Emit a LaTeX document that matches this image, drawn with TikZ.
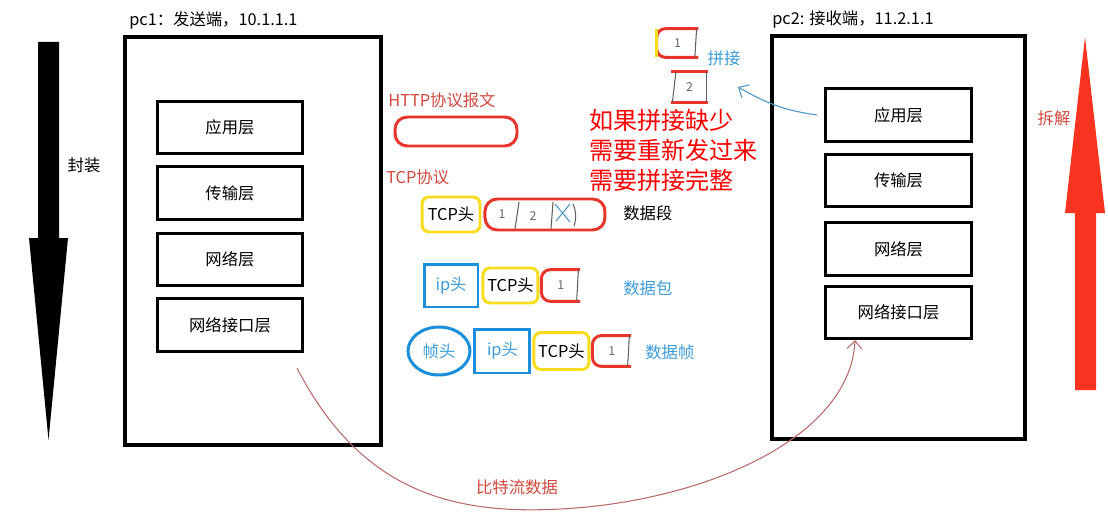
\documentclass[tikz,border=0pt]{standalone}
\usepackage{fontspec}
\setmainfont{Noto Sans CJK SC}
\usetikzlibrary{positioning,arrows.meta,shapes.geometric}

\begin{document}
\begin{tikzpicture}[
  x=0.02cm, y=-0.02cm,
  font=\fontsize{9.3pt}{11pt}\selectfont,
  pcbox/.style={draw=black, line width=2pt, inner sep=0pt},
  layer/.style={draw=black, line width=1.7pt, inner sep=0pt,
                minimum width=2.92cm, minimum height=1.05cm},
  redbox/.style={draw=hred, line width=1.7pt, rounded corners=7pt, inner sep=0pt},
  yelbox/.style={draw=hyellow, line width=1.7pt, rounded corners=4pt, inner sep=0pt,
                 minimum width=1.1cm, minimum height=0.7cm},
  bluebox/.style={draw=hblue, line width=1.7pt, inner sep=0pt, text=lblue},
  blueell/.style={ellipse, draw=hblue, line width=1.7pt, inner sep=0pt, text=lblue},
  piece/.style={inner sep=0pt, minimum width=0.76cm, minimum height=0.62cm,
                text=gray!80!black, font=\fontsize{7pt}{8pt}\selectfont},
  redline/.style={draw=hred, line width=1.7pt, rounded corners=5pt},
  pen/.style={draw=gray!75!black, line width=0.6pt},
  tag/.style={anchor=west, inner sep=0pt},
  redlbl/.style={text=lred},
  bluelbl/.style={text=lblue},
  bitflow/.style={->, draw=flowbrown, line width=0.6pt,
                  >={Straight Barb[length=1.6mm,width=3mm]}},
  joinflow/.style={->, draw=lblue!80!gray, line width=0.6pt,
                   >={Straight Barb[length=1.6mm,width=3mm]}},
]
\definecolor{hred}{HTML}{E8352B}
\definecolor{hyellow}{HTML}{F7DD1E}
\definecolor{hblue}{HTML}{1B8FDB}
\definecolor{lblue}{HTML}{3B9BD8}
\definecolor{lred}{HTML}{D2473D}
\definecolor{bigred}{HTML}{F8331F}
\definecolor{flowbrown}{HTML}{B86A6A}

\useasboundingbox (0,0) rectangle (1108,517);

% ---- encapsulate / decapsulate arrows ----
\fill[black] (38,42) -- (59,42) -- (59,238) -- (68,238) -- (48.5,440) -- (29,238) -- (38,238) -- cycle;
\node (encap) at (84,165) {封装};
\fill[bigred] (1075,390) -- (1096,390) -- (1096,213) -- (1105,213) -- (1085,37) -- (1065,213) -- (1075,213) -- cycle;
\node[redlbl] (decap) at (1054,118) {拆解};

% ---- sender ----
\node[pcbox, minimum width=5.12cm, minimum height=8.16cm] (pc1) at (253,241) {};
\node[tag] (pc1lbl) at (129,20) {pc1：发送端，10.1.1.1};
\node[layer] (a1) at (230,127.5) {应用层};
\node[layer, below=0.2cm of a1] (a2) {传输层};
\node[layer, below=0.22cm of a2] (a3) {网络层};
\node[layer, below=0.2cm of a3] (a4) {网络接口层};

% ---- receiver ----
\node[pcbox, minimum width=5.06cm, minimum height=8.06cm] (pc2) at (898.5,237.5) {};
\node[tag] (pc2lbl) at (772,20) {pc2: 接收端，11.2.1.1};
\node[layer] (b1) at (898.5,115) {应用层};
\node[layer, below=0.2cm of b1] (b2) {传输层};
\node[layer, below=0.26cm of b2] (b3) {网络层};
\node[layer, below=0.16cm of b3] (b4) {网络接口层};

% ---- HTTP message ----
\node[tag, redlbl] (httplbl) at (388,100) {HTTP协议报文};
\node[redbox, minimum width=2.44cm, minimum height=0.58cm] (http) at (456,131.5) {};
\node[tag, redlbl] (tcplbl) at (386,177) {TCP协议};

% ---- segment ----
\node[yelbox, minimum width=1.16cm] (s1) at (451,214.5) {TCP头};
\node[redbox, minimum width=2.4cm, minimum height=0.62cm, right=0.04cm of s1] (s2) {};
\node[piece, minimum width=0pt, minimum height=0pt] (s2m1) at (502,214) {1};
\node[piece, minimum width=0pt, minimum height=0pt] (s2m2) at (533,216) {2};
\draw[pen] (519,202) -- (515,229);
\draw[pen] (553,202) -- (551,229);
\draw[draw=lblue!70!gray, line width=0.6pt] (555,204) -- (570,222) (570,204) -- (556,221);
\draw[pen] (573,204) to[bend left=20] (574,226);
\node[tag] (seg) at (623,213) {数据段};

% ---- packet ----
\node[bluebox, minimum width=1.08cm, minimum height=0.86cm] (k1) at (451,285.5) {ip头};
\node[yelbox, right=0.04cm of k1] (k2) {TCP头};
\node[piece, right=0.04cm of k2] (k3) {1};
\draw[redline] (k3.north east) -- (k3.north west) -- (k3.south west) -- (k3.south east);
\draw[pen] ([xshift=-1pt]k3.north east) -- ([xshift=-2pt]k3.south east);
\node[tag, bluelbl] (pkt) at (623,288) {数据包};

% ---- frame ----
\node[blueell, minimum width=1.24cm, minimum height=0.96cm] (f1) at (439,351) {帧头};
\node[bluebox, minimum width=1.1cm, minimum height=0.88cm, right=0.04cm of f1] (f2) {ip头};
\node[yelbox, minimum height=0.74cm, right=0.02cm of f2] (f3) {TCP头};
\node[piece, minimum height=0.6cm, right=0.04cm of f3] (f4) {1};
\draw[redline] (f4.north east) -- (f4.north west) -- (f4.south west) -- (f4.south east);
\draw[pen] ([xshift=-1pt]f4.north east) -- ([xshift=-2pt]f4.south east);
\node[tag, bluelbl] (frm) at (645,352) {数据帧};

% ---- reassembly ----
\node[piece, minimum width=0.82cm, minimum height=0.56cm] (pa) at (677.5,43) {1};
\draw[redline] (pa.north east) -- (pa.north west) -- (pa.south west) -- (pa.south east);
\draw[draw=hyellow, line width=1.7pt] (pa.north west) -- (pa.south west);
\draw[pen] ([xshift=-1pt]pa.north east) -- ([xshift=-2pt]pa.south east);
\node[piece, minimum width=0.74cm, minimum height=0.6cm] (pb) at (689.5,87) {2};
\draw[draw=hred, line width=1.7pt] (pb.north west) -- (pb.north east);
\draw[draw=hred, line width=1.7pt] (pb.south west) -- (pb.south east);
\draw[pen] ([xshift=3pt]pb.north west) -- ([xshift=1pt]pb.south west);
\draw[pen] ([xshift=-1pt]pb.north east) -- ([xshift=-1pt]pb.south east);
\node[bluelbl] (pin) at (724,58) {拼接};
\coordinate (pinend) at (738,87);
\draw[joinflow] ([xshift=-4pt]b1.west) to[out=172,in=-30] (pinend);

\node[text=red, anchor=north west, align=left, inner sep=0pt,
      font=\fontsize{13.7pt}{17pt}\selectfont] (note) at (589,109)
  {如果拼接缺少\\需要重新发过来\\需要拼接完整};

% ---- bit stream ----
\coordinate (bitstart) at (297,368);
\draw[bitflow] (bitstart) .. controls (360,490) and (450,515) .. (560,509)
  .. controls (700,502) and (850,440) .. ([xshift=0.62cm]b4.south west);
\node[redlbl] (bits) at (517,487) {比特流数据};
\end{tikzpicture}
\end{document}
